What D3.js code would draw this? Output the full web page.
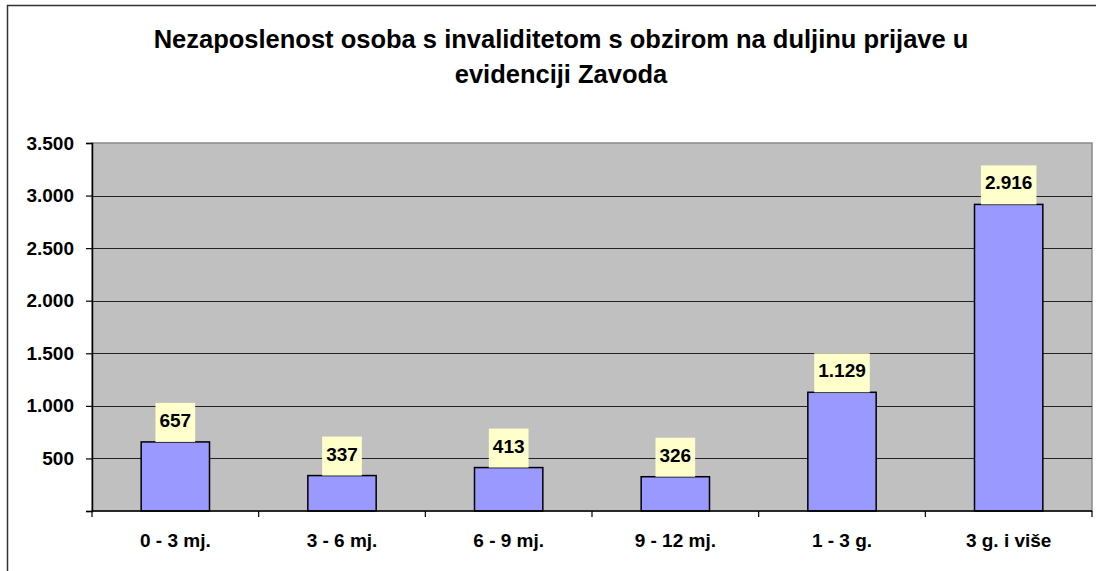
<!DOCTYPE html>
<html><head><meta charset="utf-8">
<script src="https://cdn.jsdelivr.net/npm/d3@7"></script>
<style>
html,body{margin:0;padding:0;background:#fff;}
svg{display:block;font-family:"Liberation Sans",Arial,sans-serif;font-weight:bold;}
</style></head>
<body><svg id="c" width="1096" height="571"></svg>
<script>
const categories = ["0 - 3 mj.", "3 - 6 mj.", "6 - 9 mj.", "9 - 12 mj.", "1 - 3 g.", "3 g. i više"];
const values = [657, 337, 413, 326, 1129, 2916];
const yTicks = [0, 500, 1000, 1500, 2000, 2500, 3000, 3500];
const titleLines = ["Nezaposlenost osoba s invaliditetom s obzirom na duljinu prijave u", "evidenciji Zavoda"];

const fmt = v => v === 0 ? "" : d3.format(",")(v).replace(/,/g, ".");
const svg = d3.select("#c");
const L = 92, R = 1092, T = 143, B = 511;

// outer chart border
svg.append("rect").attr("x", 7.5).attr("y", 5.5).attr("width", 1200).attr("height", 700)
  .attr("fill", "#fff").attr("stroke", "#333").attr("stroke-width", 1.5);

// title
svg.append("g").selectAll("text").data(titleLines).join("text")
  .attr("x", 561).attr("y", (d, i) => 48 + i * 34.5)
  .attr("text-anchor", "middle").attr("font-size", "25.5px").attr("fill", "#000")
  .text(d => d);

const x = d3.scaleBand().domain(categories).range([L, R]).paddingInner(0.59).paddingOuter(0.295);
const y = d3.scaleLinear().domain([0, 3500]).range([B, T]);

// plot area
svg.append("rect").attr("x", L).attr("y", T).attr("width", R - L).attr("height", B - T)
  .attr("fill", "#c0c0c0").attr("stroke", "#8a8a8a").attr("stroke-width", 1.5);

// gridlines
svg.append("g").selectAll("line").data(yTicks.filter(t => t > 0 && t < 3500)).join("line")
  .attr("x1", L).attr("x2", R).attr("y1", d => Math.round(y(d)) + 0.5).attr("y2", d => Math.round(y(d)) + 0.5)
  .attr("stroke", "#222").attr("stroke-width", 1);

// y axis
const yAxis = svg.append("g").attr("transform", `translate(${L},0)`)
  .call(d3.axisLeft(y).tickValues(yTicks).tickFormat(fmt).tickSize(6).tickPadding(12));
yAxis.select(".domain").attr("stroke", "#000").attr("stroke-width", 1.5);
yAxis.selectAll(".tick line").attr("stroke", "#000").attr("stroke-width", 1.2);
yAxis.selectAll("text").attr("font-size", "19px").attr("fill", "#000").attr("font-family", "Liberation Sans, Arial, sans-serif").attr("font-weight", "bold");

// bars
svg.append("g").selectAll("rect").data(values).join("rect")
  .attr("x", (d, i) => x(categories[i])).attr("y", d => y(d))
  .attr("width", x.bandwidth()).attr("height", d => B - y(d))
  .attr("fill", "#9999ff").attr("stroke", "#000").attr("stroke-width", 1.5);

// x axis (boundary ticks)
const xg = svg.append("g");
xg.append("line").attr("x1", L).attr("x2", R).attr("y1", B).attr("y2", B).attr("stroke", "#000").attr("stroke-width", 1.5);
const bounds = categories.map(c => x(c) - x.step() * x.paddingInner() / 2 - (x.step() * (1 - x.paddingInner()) - x.bandwidth()) / 2);
const step = x.step();
const edges = d3.range(categories.length + 1).map(i => L + i * step);
xg.selectAll("line.t").data(edges).join("line").attr("class", "t")
  .attr("x1", d => d).attr("x2", d => d).attr("y1", B).attr("y2", B + 6)
  .attr("stroke", "#000").attr("stroke-width", 1.2);
xg.selectAll("text").data(categories).join("text")
  .attr("x", d => x(d) + x.bandwidth() / 2).attr("y", 547)
  .attr("text-anchor", "middle").attr("font-size", "19px").attr("fill", "#000")
  .text(d => d);

// data labels
const lg = svg.append("g").selectAll("g").data(values).join("g");
lg.each(function(d, i) {
  const g = d3.select(this);
  const cx = x(categories[i]) + x.bandwidth() / 2;
  const top = y(d);
  const t = g.append("text").attr("x", cx).attr("y", top - 15)
    .attr("text-anchor", "middle").attr("font-size", "19px").attr("fill", "#000").text(fmt(d));
  const w = t.node().getComputedTextLength() + 8;
  g.insert("rect", "text").attr("x", cx - w / 2).attr("y", top - 39).attr("width", w).attr("height", 39)
    .attr("fill", "#ffffcc");
});
</script></body></html>
